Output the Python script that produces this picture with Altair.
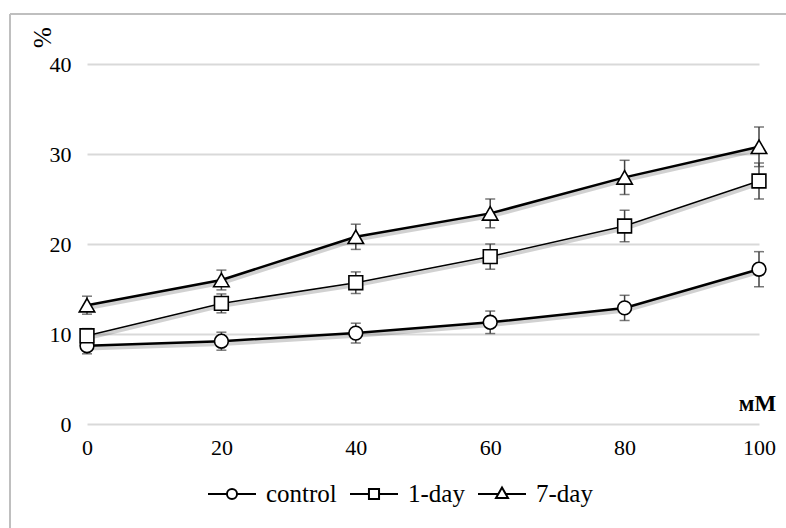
import altair as alt
import pandas as pd

# ---- data ----
concentration = [0, 20, 40, 60, 80, 100]
series_names = ["control", "1-day", "7-day"]
control = [8.7, 9.2, 10.1, 11.3, 12.9, 17.2]
control_err = [0.9, 1.0, 1.1, 1.25, 1.4, 1.95]
day1 = [9.8, 13.4, 15.7, 18.6, 22.0, 27.0]
day1_err = [0.8, 1.05, 1.2, 1.4, 1.75, 2.0]
day7 = [13.2, 16.0, 20.8, 23.4, 27.4, 30.8]
day7_err = [1.0, 1.1, 1.4, 1.6, 1.9, 2.2]
y_ticks = [0, 10, 20, 30, 40]
x_ticks = [0, 20, 40, 60, 80, 100]

rows = []
for name, vals, errs in [("control", control, control_err),
                         ("1-day", day1, day1_err),
                         ("7-day", day7, day7_err)]:
    for c, v, e in zip(concentration, vals, errs):
        rows.append({"conc": c, "series": name, "value": v, "lo": v - e, "hi": v + e})
df = pd.DataFrame(rows)

FONT = "Liberation Serif"

x_enc = alt.X("conc:Q", scale=alt.Scale(domain=[0, 100], nice=False),
              axis=alt.Axis(values=x_ticks, grid=False, domain=False, ticks=False,
                            labelFont=FONT, labelFontSize=22, labelColor="black",
                            labelPadding=13, labelFlush=False,
                            title="мМ", titleFont=FONT, titleFontSize=23,
                            titleFontWeight="bold", titleColor="black",
                            titleX=670, titleY=-21, titleAlign="center",
                            titleBaseline="middle", titleAngle=0))
y_enc = alt.Y("value:Q", scale=alt.Scale(domain=[0, 40], nice=False),
              axis=alt.Axis(values=y_ticks, grid=True, gridColor="#d9d9d9", gridWidth=2,
                            domain=False, ticks=False,
                            labelFont=FONT, labelFontSize=22, labelColor="black",
                            labelPadding=16,
                            title="%", titleFont=FONT, titleFontSize=25,
                            titleFontWeight="normal", titleColor="black",
                            titleX=-45, titleY=-27, titleAngle=270,
                            titleAlign="center", titleBaseline="middle"))

base = alt.Chart(df)

err_rule = base.mark_rule(color="#404040", strokeWidth=1.5).encode(
    x=x_enc, y=alt.Y("lo:Q"), y2="hi:Q")
err_lo = base.mark_tick(color="#404040", orient="horizontal", size=10, thickness=1.5).encode(
    x="conc:Q", y="lo:Q")
err_hi = base.mark_tick(color="#404040", orient="horizontal", size=10, thickness=1.5).encode(
    x="conc:Q", y="hi:Q")

line_widths = {"control": 2.5, "1-day": 1.5, "7-day": 2.5}
shapes = {"control": "circle", "1-day": "square", "7-day": "triangle-up"}
sizes = {"control": 190, "1-day": 190, "7-day": 240}

layers = []
for s in series_names:
    sub = base.transform_filter(alt.datum.series == s)
    layers.append(sub.mark_line(color="black", opacity=0.18, strokeWidth=line_widths[s] + 2,
                                xOffset=1, yOffset=2.5).encode(x=x_enc, y=y_enc))
for s in series_names:
    sub = base.transform_filter(alt.datum.series == s)
    layers.append(sub.mark_line(color="black", strokeWidth=line_widths[s]).encode(x=x_enc, y=y_enc))
for s in series_names:
    sub = base.transform_filter(alt.datum.series == s)
    layers.append(sub.mark_point(shape=shapes[s], size=sizes[s], filled=True, fill="white",
                                 stroke="black", strokeWidth=1.6, opacity=1).encode(
        x="conc:Q", y="value:Q"))

legend_paths = [
    "M-1,0L-0.21,0M0.21,0L1,0M-0.21,0A0.21,0.21,0,1,1,0.21,0A0.21,0.21,0,1,1,-0.21,0Z",
    "M-1,0L-0.21,0M0.21,0L1,0M-0.21,-0.21L0.21,-0.21L0.21,0.21L-0.21,0.21Z",
    "M-1,0L-0.15,0M0.15,0L1,0M0,-0.27L0.25,0.17L-0.25,0.17Z",
]
legend_layer = base.mark_point(filled=False, color="black", size=1, strokeWidth=0.1).encode(
    x="conc:Q", y="value:Q",
    shape=alt.Shape("series:N", scale=alt.Scale(domain=series_names, range=legend_paths),
                    legend=alt.Legend(orient="none", legendX=120, legendY=405,
                                      direction="horizontal", title=None,
                                      symbolSize=2304, symbolStrokeWidth=2,
                                      symbolStrokeColor="black", symbolOpacity=1,
                                      labelFont=FONT, labelFontSize=25, labelColor="black",
                                      labelOffset=9, columnPadding=9, padding=0, offset=0)))

frame_df = pd.DataFrame({"k": [0]})
frame_left = alt.Chart(frame_df).mark_rule(color="#bfbfbf", strokeWidth=2).encode(
    x=alt.value(-77), y=alt.value(-50), y2=alt.value(600))
frame_top = alt.Chart(frame_df).mark_rule(color="#bfbfbf", strokeWidth=2).encode(
    x=alt.value(-77), x2=alt.value(800), y=alt.value(-50))

chart = alt.layer(frame_left, frame_top, legend_layer, err_rule, err_lo, err_hi, *layers).properties(
    width=672, height=360,
    autosize=alt.AutoSizeParams(type="none"),
    padding={"left": 87, "top": 64, "right": 27, "bottom": 104},
    background="white",
).configure_view(stroke=None)

chart.save("out.html", embed_options={"renderer": "svg", "actions": False})
